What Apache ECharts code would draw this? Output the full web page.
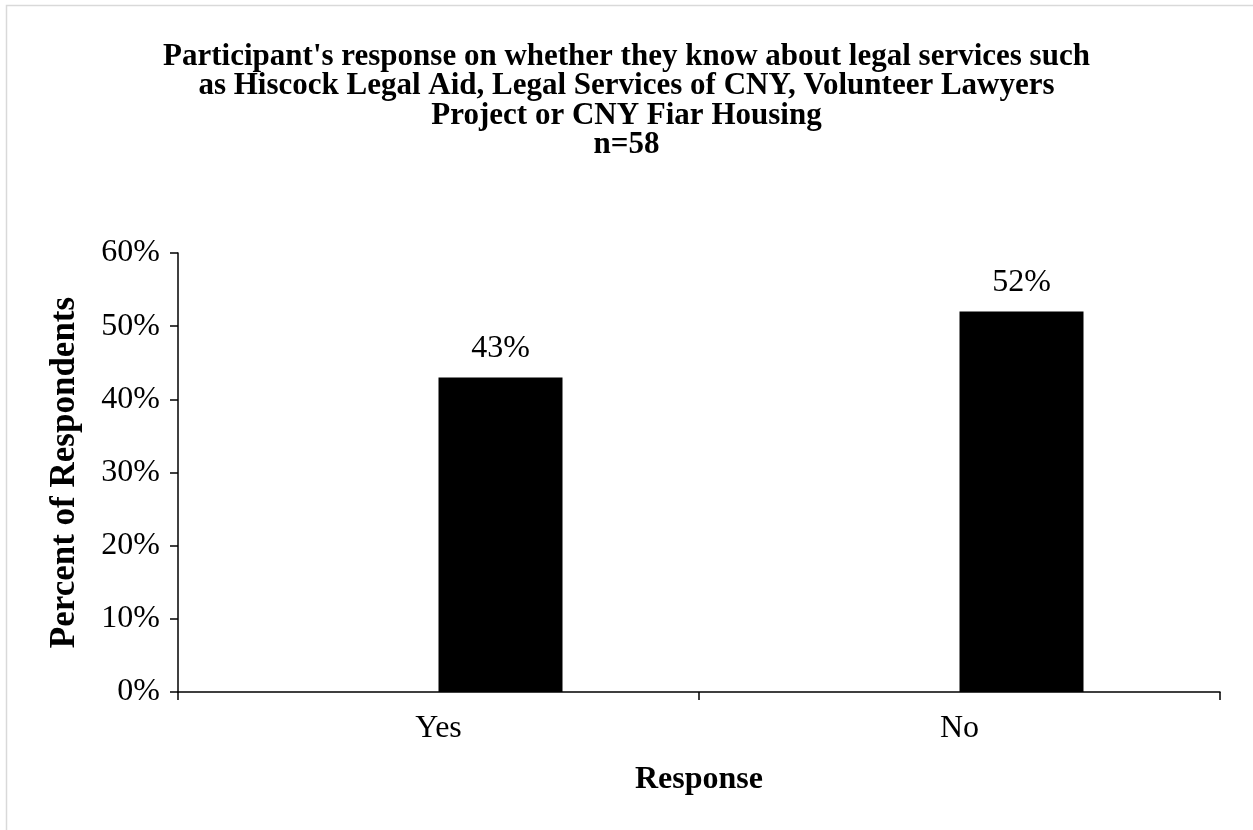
<!DOCTYPE html>
<html>
<head>
<meta charset="utf-8">
<script src="https://cdn.jsdelivr.net/npm/echarts@6/dist/echarts.min.js"></script>
<style>
html, body { margin: 0; padding: 0; background: #fff; }
#chart { width: 1253px; height: 830px; }
</style>
</head>
<body>
<div id="chart"></div>
<script>
var categories = ['Yes', 'No'];
var percents = [43, 52];
var blank = ['-', '-'];
var yTicks = { min: 0, max: 60, interval: 10 };

var serif = '"Liberation Serif", "Times New Roman", serif';
var chart = echarts.init(document.getElementById('chart'));

var option = {
    backgroundColor: '#fff',
    animation: false,
    title: {
        text: "Participant's response on whether they know about legal services such\nas Hiscock Legal Aid, Legal Services of CNY, Volunteer Lawyers\nProject or CNY Fiar Housing\nn=58",
        left: 'center',
        top: 37,
        textStyle: {
            color: '#000',
            fontFamily: serif,
            fontWeight: 'bold',
            fontSize: 31,
            lineHeight: 29.5
        }
    },
    graphic: [{
        type: 'rect',
        shape: { x: 6.5, y: 5.5, width: 1252, height: 840 },
        style: { fill: null, stroke: '#d9d9d9', lineWidth: 1.5 },
        silent: true
    }],
    grid: { left: 178, right: 33, top: 253, bottom: 138 },
    xAxis: {
        type: 'category',
        data: categories,
        name: 'Response',
        nameLocation: 'middle',
        nameGap: 72,
        nameTextStyle: { color: '#000', fontFamily: serif, fontWeight: 'bold', fontSize: 32 },
        axisLine: { lineStyle: { color: '#000', width: 1.5 } },
        axisTick: { show: true, length: 8, lineStyle: { color: '#000', width: 1.5 } },
        axisLabel: { color: '#000', fontFamily: serif, fontSize: 32, margin: 21 }
    },
    yAxis: {
        type: 'value',
        min: yTicks.min,
        max: yTicks.max,
        interval: yTicks.interval,
        name: 'Percent of Respondents',
        nameLocation: 'middle',
        nameGap: 96,
        nameTextStyle: { color: '#000', fontFamily: serif, fontWeight: 'bold', fontSize: 35 },
        axisLine: { show: true, lineStyle: { color: '#000', width: 1.5 } },
        axisTick: { show: true, length: 8, lineStyle: { color: '#000', width: 1.5 } },
        splitLine: { show: false },
        axisLabel: { color: '#000', fontFamily: serif, fontSize: 32, margin: 18, formatter: '{value}%' }
    },
    series: [
        {
            type: 'bar',
            data: blank,
            barWidth: 124,
            barGap: '0%',
            itemStyle: { color: '#000' }
        },
        {
            type: 'bar',
            data: percents,
            barWidth: 124,
            barGap: '0%',
            itemStyle: { color: '#000' },
            label: {
                show: true,
                position: 'top',
                distance: 13,
                color: '#000',
                fontFamily: serif,
                fontSize: 32,
                formatter: '{c}%'
            }
        }
    ]
};

chart.setOption(option);
</script>
</body>
</html>
